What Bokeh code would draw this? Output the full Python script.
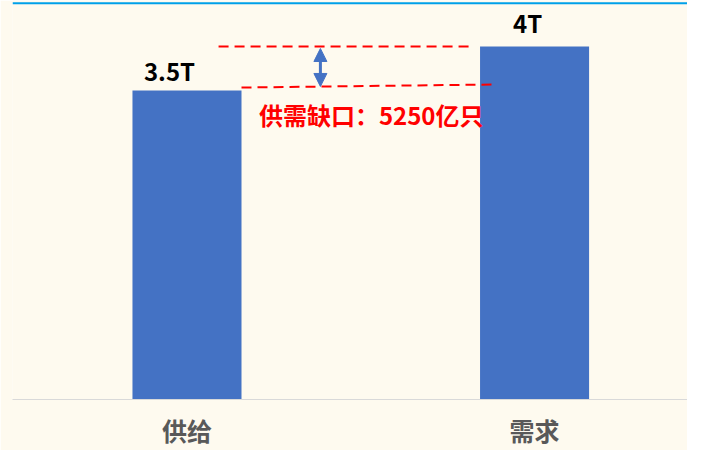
from bokeh.plotting import figure
from bokeh.models import (Range1d, FixedTicker, ColumnDataSource, Arrow, NormalHead, Span)
from bokeh.core.properties import value
from bokeh.embed import file_html
from bokeh.resources import INLINE

# ---- data ----
categories = ["供给", "需求"]
values = [3.5, 4.0]
value_labels = ["3.5T", "4T"]
gap_label = "供需缺口：5250亿只"

BLUE = "#4472C4"
BG = "#FEFAEF"
FONT = "Noto Sans CJK SC"

xs = [0.5 + i for i in range(len(categories))]
bar_w = 0.3137
Y_END = 4.521

src = ColumnDataSource(dict(x=xs, top=values, label=value_labels))

p = figure(frame_width=675, frame_height=399, output_backend="svg", toolbar_location=None,
           x_range=Range1d(-0.002, 1.940), y_range=Range1d(0, Y_END),
           min_border_left=12, min_border_right=0, min_border_top=0, min_border_bottom=0)
p.background_fill_color = BG
p.border_fill_color = BG
p.outline_line_color = None
p.grid.visible = False
p.yaxis.visible = False

p.vbar(x="x", top="top", bottom=0, width=bar_w, source=src, fill_color=BLUE, line_color=None)

# axis
ax = p.xaxis[0]
ax.ticker = FixedTicker(ticks=xs)
ax.major_label_overrides = {x: c for x, c in zip(xs, categories)}
ax.axis_line_color = "#D9D9D9"
ax.axis_line_width = 1
ax.major_tick_line_color = None
ax.minor_tick_line_color = None
ax.major_tick_in = 0
ax.major_tick_out = 0
ax.major_label_standoff = 12
ax.major_label_text_font = FONT
ax.major_label_text_font_size = "25px"
ax.major_label_text_font_style = "bold"
ax.major_label_text_color = "#595959"

# value labels
offsets_x = [-17.5, -7]
offsets_y = [-20, -24]
for i in range(len(xs)):
    p.text(x=[xs[i]], y=[values[i]], text=[value_labels[i]], x_offset=offsets_x[i], y_offset=offsets_y[i],
           text_align="center", text_baseline="alphabetic", text_font=value(FONT),
           text_font_size="24px", text_font_style="bold", text_color="#000000")

# gap annotation
supply, demand = values
left_edge_demand = xs[1] - bar_w / 2
right_edge_supply = xs[0] + bar_w / 2
p.segment(x0=[right_edge_supply - 0.066], y0=[demand], x1=[left_edge_demand - 0.033], y1=[demand],
          line_color="#FF0000", line_width=2, line_dash="10 6")
p.segment(x0=[right_edge_supply], y0=[supply + 0.035], x1=[left_edge_demand + 0.036], y1=[supply + 0.069],
          line_color="#FF0000", line_width=2, line_dash="10 6")

arrow_x = right_edge_supply + 0.227
p.add_layout(Arrow(start=NormalHead(size=13, fill_color=BLUE, line_color=BLUE),
                   end=NormalHead(size=13, fill_color=BLUE, line_color=BLUE),
                   x_start=arrow_x, y_start=demand - 0.023, x_end=arrow_x, y_end=supply + 0.047,
                   line_color=BLUE, line_width=3))

p.text(x=[right_edge_supply + 0.05], y=[supply], text=[gap_label], x_offset=0, y_offset=24,
       text_align="left", text_baseline="middle", text_font=value(FONT),
       text_font_size="24px", text_font_style="bold", text_color="#FF0000")

# top accent line
p.add_layout(Span(location=Y_END - 2.7 / 88.25, dimension="width", line_color="#00A0E9", line_width=2))

open("out.html", "w").write(file_html(p, INLINE))
